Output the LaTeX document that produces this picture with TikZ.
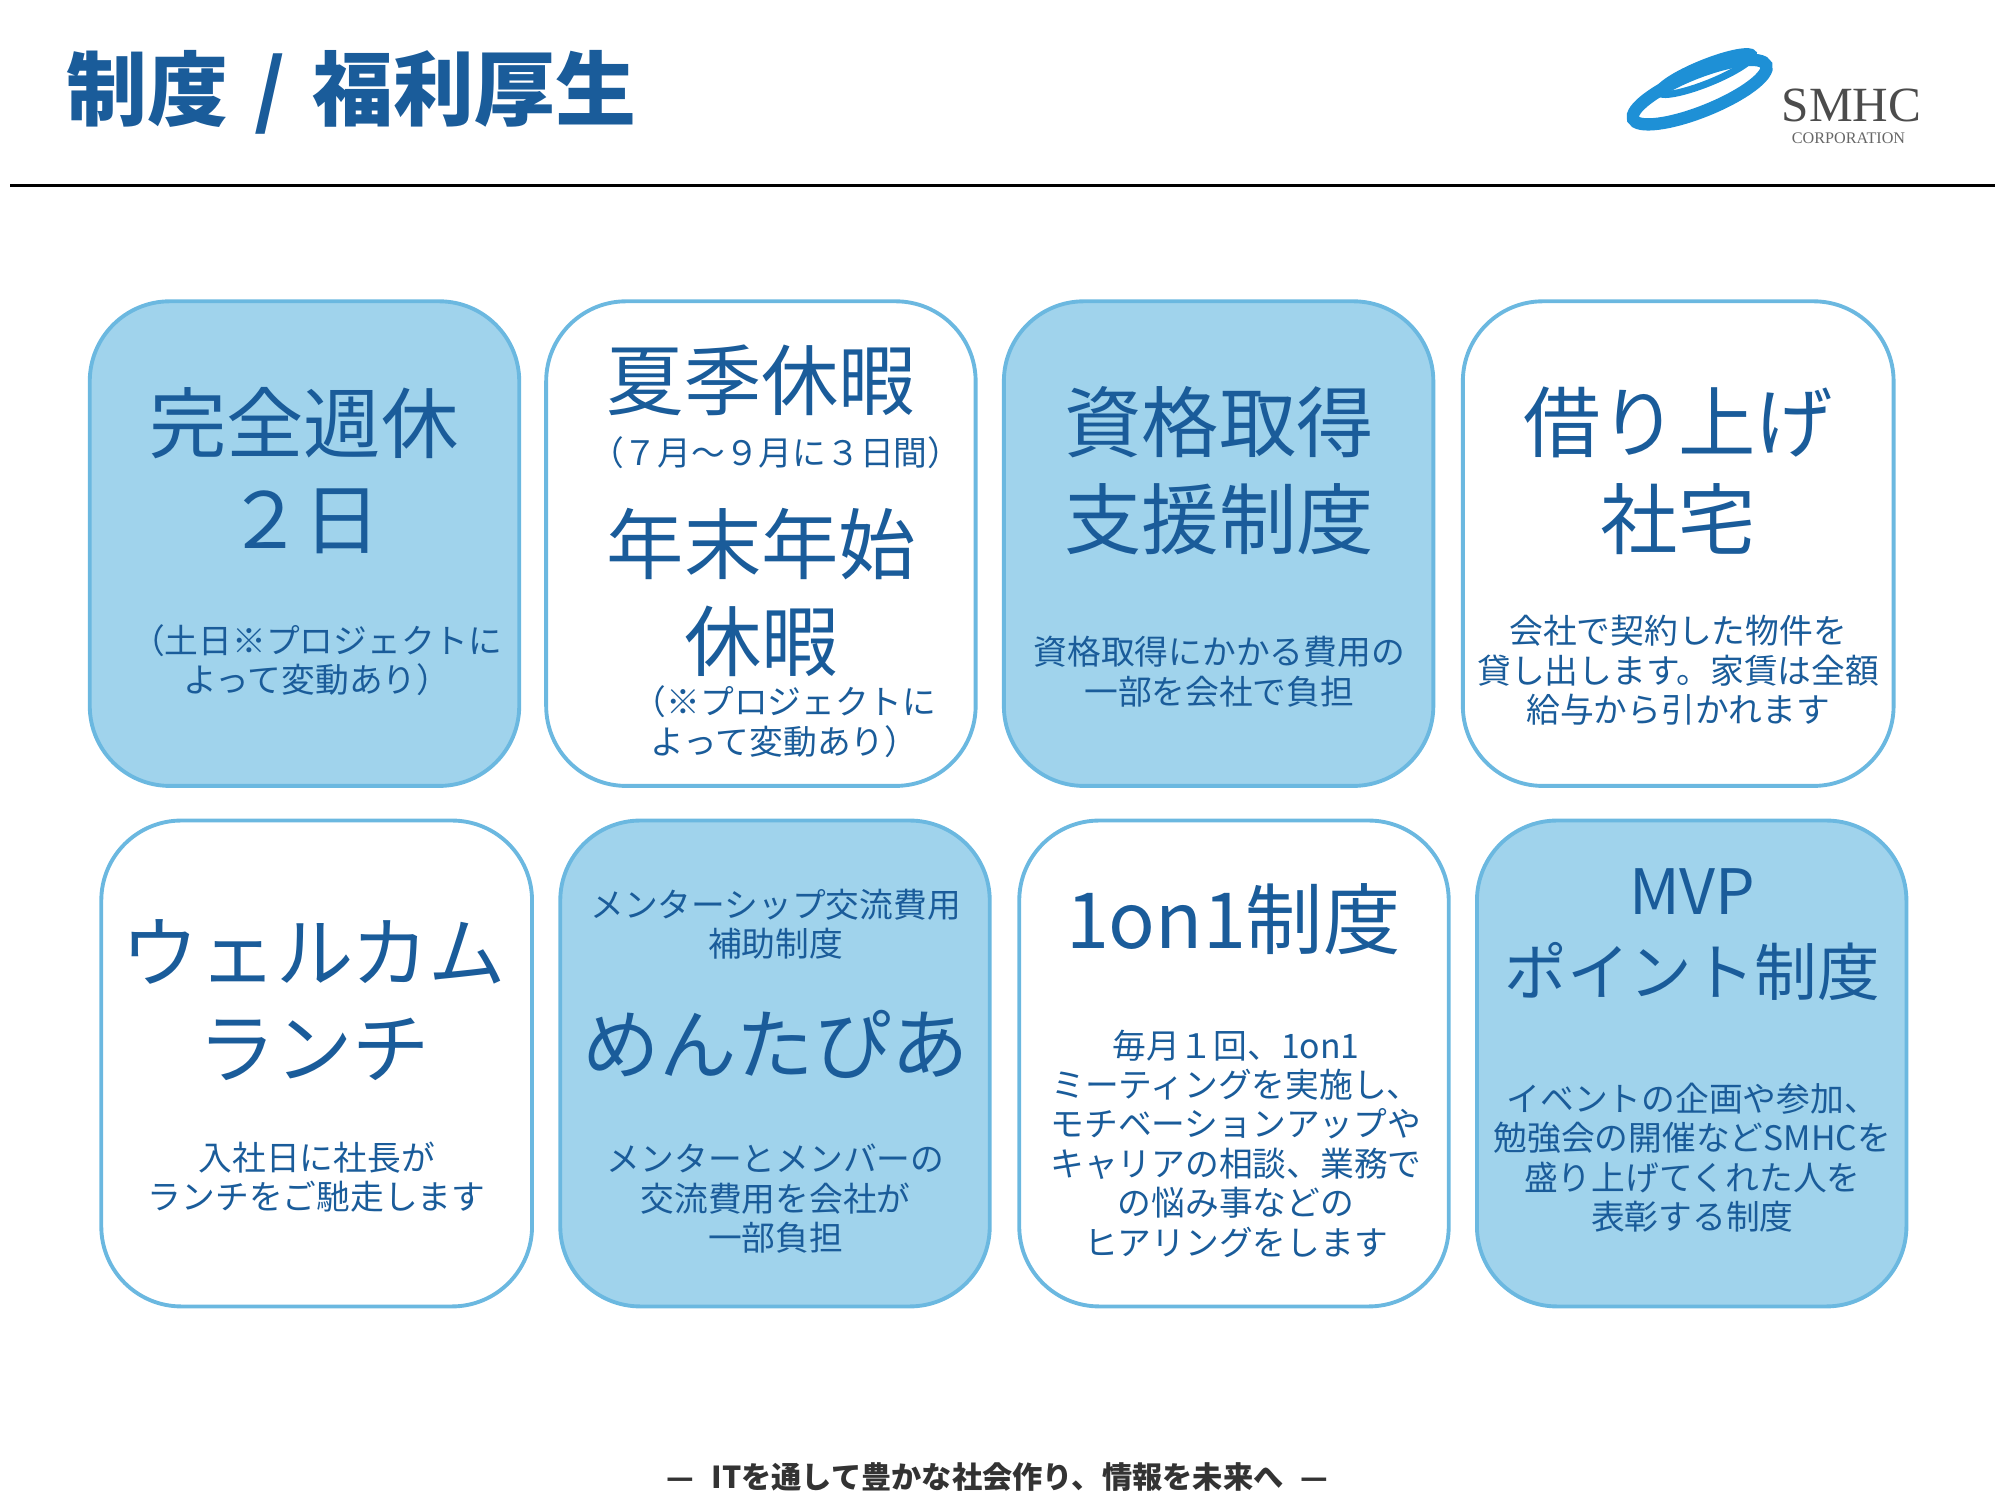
\documentclass[tikz,border=0pt]{standalone}
\usepackage{fontspec}
\setmainfont{Noto Sans CJK JP}
\newfontfamily\serifl{Liberation Serif}
\definecolor{tblue}{HTML}{1A5C9A}
\definecolor{fillb}{HTML}{A0D3EC}
\definecolor{edgeb}{HTML}{6BB8E0}
\definecolor{logob}{HTML}{1E90D6}
\begin{document}
\begin{tikzpicture}[x=0.012821cm,y=-0.012821cm]
\tikzset{
 card/.style={draw=edgeb,line width=1.1pt,rounded corners=0.8cm},
 filled/.style={card,fill=fillb},
 plain/.style={card,fill=white},
 big/.style={text=tblue,align=center,font=\fontsize{22}{27.5}\selectfont},
 mid/.style={text=tblue,align=center,font=\fontsize{17.8}{23}\selectfont},
 sm/.style={text=tblue,align=center,font=\fontsize{9.6}{11.2}\selectfont},
}
\useasboundingbox (0,0) rectangle (1560,1170);
\node[anchor=west,text=tblue,font=\fontsize{23}{26}\bfseries] (title) at (42,72) {制度\,\,/\,\,福利厚生};
\draw[line width=0.9pt] (8,145) -- (1556,145);
% logo
\begin{scope}[shift={(1325,70)},rotate=22]
\draw[logob,line width=3.5pt] (0,2) ellipse (56 and 15);
\draw[logob,line width=2pt] (10,-10) ellipse (40 and 8);
\end{scope}
\node[anchor=west,text=black!70,font=\serifl\fontsize{14}{14}\selectfont] (smhc) at (1380,82) {SMHC};
\node[anchor=west,text=black!60,font=\serifl\fontsize{4.6}{5}\selectfont] (corp) at (1388,108) {CORPORATION};
% cards
\draw[filled] (70,235) rectangle (405,613);
\draw[plain] (426,235) rectangle (761,613);
\draw[filled] (783,235) rectangle (1118,613);
\draw[plain] (1141,235) rectangle (1477,613);
\draw[plain] (79,640) rectangle (415,1019);
\draw[filled] (437,640) rectangle (772,1019);
\draw[plain] (795,640) rectangle (1130,1019);
\draw[filled] (1152,640) rectangle (1487,1019);
% texts row 1
\node[big] (t1) at (237,367) {完全週休\\２日};
\node[sm] (s1) at (247,515) {（土日※プロジェクトに\\よって変動あり）};
\node[big] (t2a) at (594,297) {夏季休暇};
\node[sm] (t2b) at (605,353) {（７月～９月に３日間）};
\node[big] (t2c) at (594,462) {年末年始\\休暇};
\node[sm] (s2) at (612,563) {（※プロジェクトに\\よって変動あり）};
\node[big] (t3) at (951,367) {資格取得\\支援制度};
\node[sm] (s3) at (951,524) {資格取得にかかる費用の\\一部を会社で負担};
\node[big] (t4) at (1309,367) {借り上げ\\社宅};
\node[sm] (s4) at (1309,523) {会社で契約した物件を\\貸し出します。家賃は全額\\給与から引かれます};
% row 2
\node[big] (t5) at (245,780) {ウェルカム\\ランチ};
\node[sm] (s5) at (247,918) {入社日に社長が\\ランチをご馳走します};
\node[sm] (u6) at (605,721) {メンターシップ交流費用\\補助制度};
\node[big] (t6) at (605,815) {めんたぴあ};
\node[sm] (s6) at (605,935) {メンターとメンバーの\\交流費用を会社が\\一部負担};
\node[big] (t7) at (962,717) {1on1制度};
\node[sm] (s7) at (964,892) {毎月１回、1on1\\ミーティングを実施し、\\モチベーションアップや\\キャリアの相談、業務で\\の悩み事などの\\ヒアリングをします};
\node[mid] (t8) at (1320,729) {MVP\\ポイント制度};
\node[sm] (s8) at (1320,903) {イベントの企画や参加、\\勉強会の開催などSMHCを\\盛り上げてくれた人を\\表彰する制度};
\node[text=black!80,font=\fontsize{8.6}{10}\bfseries] (foot) at (778,1152) {—\,\, ITを通して豊かな社会作り、情報を未来へ \,\,—};
\end{tikzpicture}
\end{document}
